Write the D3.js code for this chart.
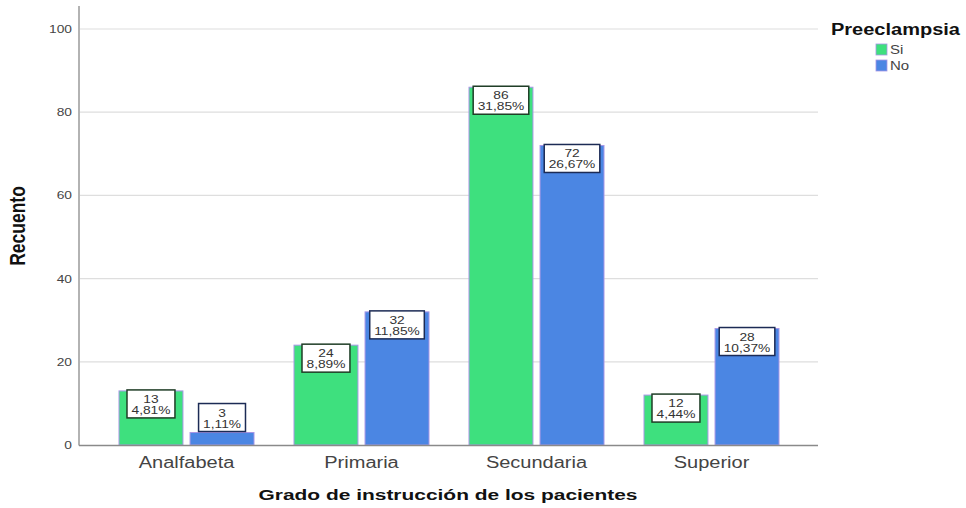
<!DOCTYPE html>
<html><head><meta charset="utf-8">
<script src="https://cdn.jsdelivr.net/npm/d3@7"></script>
<style>body{margin:0;background:#fff}svg{display:block}</style>
</head><body>
<svg id="c" width="966" height="508"></svg>
<script>
const categories = ["Analfabeta","Primaria","Secundaria","Superior"];
const seriesNames = ["Si","No"];
const siValues = [13,24,86,12];
const noValues = [3,32,72,28];
const siPct = ["4,81%","8,89%","31,85%","4,44%"];
const noPct = ["1,11%","11,85%","26,67%","10,37%"];
const yTicks = [0,20,40,60,80,100];
const colors = {Si:"#3ee07e", No:"#4b86e3"};
const boxStroke = {Si:"#1f3d26", No:"#1c2b55"};

const SX = 1.25;
const svg = d3.select("#c");
const font = "Arial, 'Liberation Sans', sans-serif";

function txt(g, x, y, s, opts) {
  const t = g.append("text")
    .attr("transform", `translate(${x},${y}) scale(${opts.sx||SX},1)`)
    .attr("text-anchor", opts.anchor||"middle")
    .attr("font-family", font)
    .attr("font-size", opts.size)
    .attr("font-weight", opts.weight||"normal")
    .attr("fill", opts.fill||"#333")
    .text(s);
  return t;
}

const y = d3.scaleLinear().domain([0,100]).range([445,29]);
const x0 = d3.scaleBand().domain(categories).range([99,799]);
const x1 = d3.scaleBand().domain(seriesNames).range([20, x0.bandwidth()-20]).paddingInner(0.1);

// gridlines
svg.append("g").selectAll("line").data(yTicks.filter(d=>d>0)).join("line")
  .attr("x1",80).attr("x2",818).attr("y1",d=>y(d)).attr("y2",d=>y(d))
  .attr("stroke","#dedede").attr("stroke-width",1.2);

// y tick labels
const yt = svg.append("g");
yTicks.forEach(d => txt(yt, 72, y(d)+4, d, {size:11, anchor:"end", fill:"#444"}));

// axes lines
svg.append("line").attr("x1",79).attr("x2",79).attr("y1",6).attr("y2",445.5)
  .attr("stroke","#8a8a8a").attr("stroke-width",1.3);

// bars
const data = [];
categories.forEach((c,i)=>{
  data.push({cat:c, s:"Si", v:siValues[i], p:siPct[i]});
  data.push({cat:c, s:"No", v:noValues[i], p:noPct[i]});
});
const bars = svg.append("g");
bars.selectAll("rect").data(data).join("rect")
  .attr("x", d=>x0(d.cat)+x1(d.s))
  .attr("width", x1.bandwidth())
  .attr("y", d=>y(d.v))
  .attr("height", d=>y(0)-y(d.v))
  .attr("fill", d=>colors[d.s])
  .attr("stroke", "#a796e6").attr("stroke-width",1);

svg.append("line").attr("x1",79).attr("x2",818).attr("y1",445.5).attr("y2",445.5)
  .attr("stroke","#8a8a8a").attr("stroke-width",1.3);

// labels
const lab = svg.append("g");
data.forEach(d=>{
  const cx = x0(d.cat)+x1(d.s)+x1.bandwidth()/2;
  const g = lab.append("g");
  const t1 = txt(g, cx, 0, d.v, {size:11, fill:"#333"});
  const t2 = txt(g, cx, 0, d.p, {size:11, fill:"#333"});
  const w = Math.max(t1.node().getComputedTextLength(), t2.node().getComputedTextLength())*SX + 9;
  const h = 28;
  const top = y(d.v);
  const barH = y(0)-y(d.v);
  const by = barH >= h+2 ? top-1 : top-h-1;
  g.insert("rect","text").attr("x",cx-w/2).attr("y",by).attr("width",w).attr("height",h)
    .attr("fill","#fff").attr("stroke",boxStroke[d.s]).attr("stroke-width",1.5);
  t1.attr("transform",`translate(${cx},${by+13}) scale(${SX},1)`);
  t2.attr("transform",`translate(${cx},${by+24}) scale(${SX},1)`);
});

// category labels
const cl = svg.append("g");
categories.forEach(c=> txt(cl, x0(c)+x0.bandwidth()/2, 468, c, {size:16, fill:"#444"}));

// axis titles
txt(svg, 448, 500, "Grado de instrucción de los pacientes", {size:15.5, sx:1.35, weight:"bold", fill:"#111"});
svg.append("text")
  .attr("transform","translate(25,226) rotate(-90) scale(1,1.3)")
  .attr("text-anchor","middle").attr("font-family",font).attr("font-size",17.5)
  .attr("font-weight","bold").attr("fill","#111").text("Recuento");

// legend
const lg = svg.append("g");
txt(lg, 831, 35, "Preeclampsia", {size:16, weight:"bold", anchor:"start", fill:"#111"});
seriesNames.forEach((s,i)=>{
  lg.append("rect").attr("x",876).attr("y",44+i*16).attr("width",11).attr("height",11)
    .attr("fill",colors[s]).attr("stroke","#a796e6").attr("stroke-width",0.8);
  txt(lg, 890, 54+i*16, s, {size:12, anchor:"start", fill:"#444"});
});
</script>
</body></html>
